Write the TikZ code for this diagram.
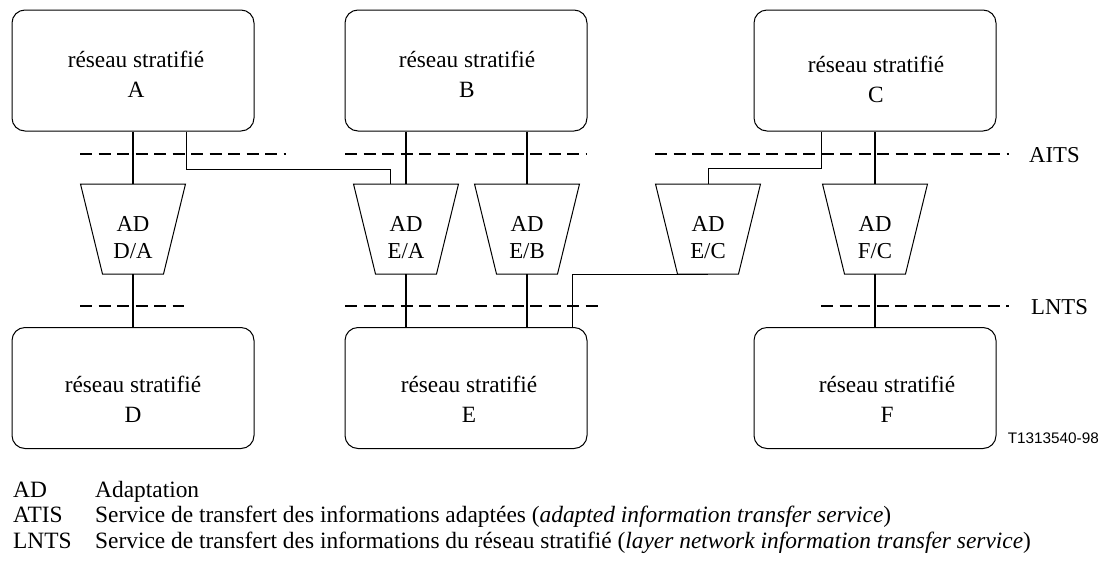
\documentclass[tikz,border=0pt]{standalone}
\usepackage{fontspec}
\setmainfont{Liberation Serif}
\newfontfamily\figsans{Liberation Sans}
\usetikzlibrary{calc}

% adaptation function: trapezium with its label, plus top and bottom ports
\newcommand\adapter[3]{%
  \draw[adline] (#2-52.5,184) -- (#2+52.5,184) -- (#2+30.5,274) -- (#2-30.5,274) -- cycle;
  \node[adlbl] (#1) at (#2,238) {AD\\#3};
  \coordinate (#1-t) at (#2,184);
  \coordinate (#1-b) at (#2,274);
}

\begin{document}
\begin{tikzpicture}[x=1pt,y=-1pt,
  net/.style={draw, line width=1pt, rounded corners=13pt,
              minimum width=242pt, minimum height=121pt, inner sep=0pt},
  lbl/.style={align=center, inner sep=0pt, font=\fontsize{23.3}{30}\selectfont},
  adlbl/.style={align=center, inner sep=0pt, font=\fontsize{22.8}{27}\selectfont},
  adline/.style={line width=1pt, line join=miter},
  conn/.style={line width=1.6pt},
  link/.style={line width=0.9pt},
  service/.style={line width=1.6pt, dash pattern=on 12pt off 6.5pt},
  svclbl/.style={anchor=base west, inner sep=0pt, font=\fontsize{22.7}{26}\selectfont},
  legend/.style={anchor=base west, inner sep=0pt, font=\fontsize{23.4}{26}\selectfont}
]
\fill[white] (0,0) rectangle (1103,560);
\useasboundingbox (0,0) rectangle (1103,560);

% layer networks
\node[net] (A) at (133,70.5) {};
\node[net] (B) at (466,70.5) {};
\node[net] (C) at (875,70.5) {};
\node[net] (D) at (133,388) {};
\node[net] (E) at (466,388) {};
\node[net] (F) at (875,388) {};

\node[lbl] (tA) at (136,74) {réseau stratifié\\A};
\node[lbl] (tB) at (467,74) {réseau stratifié\\B};
\node[lbl] (tC) at (876,79) {réseau stratifié\\C};
\node[lbl] (tD) at (133,399) {réseau stratifié\\D};
\node[lbl] (tE) at (469,399) {réseau stratifié\\E};
\node[lbl] (tF) at (887,399) {réseau stratifié\\F};

% adaptation functions
\adapter{DA}{133}{D/A}
\adapter{EA}{406}{E/A}
\adapter{EB}{527}{E/B}
\adapter{EC}{708}{E/C}
\adapter{FC}{875}{F/C}

% service boundaries
\draw[service] (80,154) -- (286,154);
\draw[service] (345,154) -- (587,154);
\draw[service] (655,154) -- (1009,154);
\draw[service] (80,306) -- (184,306);
\draw[service] (345,306) -- (603,306);
\draw[service] (821,306) -- (1009,306);
\node[svclbl] (aits) at (1029,162) {AITS};
\node[svclbl] (lnts) at (1031,314) {LNTS};

% direct connections
\draw[conn] (A.south) -- (DA-t);
\draw[conn] (DA-b) -- (D.north);
\draw[conn] ([xshift=-60pt]B.south) -- (EA-t);
\draw[conn] ([xshift=61pt]B.south) -- (EB-t);
\draw[conn] (EA-b) -- (EA-b |- E.north);
\draw[conn] (EB-b) -- (EB-b |- E.north);
\draw[conn] (C.south) -- (FC-t);
\draw[conn] (FC-b) -- (F.north);

% routed connections
\draw[link] ([xshift=53pt]A.south) -- ++(0,38) -| ([xshift=-16pt]EA-t);
\draw[link] ([xshift=-54pt]C.south) -- ++(0,37) -| (EC-t);
\draw[link] ([xshift=106pt]E.north) |- (EC-b);

\node[anchor=base east, inner sep=0pt, font=\figsans\fontsize{15.3}{18}\selectfont] (ref) at (1099,443) {T1313540-98};

% key
\node[legend] (k1) at (13,497) {AD};
\node[legend] (d1) at (95,497) {Adaptation};
\node[legend] (k2) at (13,522) {ATIS};
\node[legend] (d2) at (95,522) {Service de transfert des informations adaptées (\textit{adapted information transfer service})};
\node[legend] (k3) at (13,548) {LNTS};
\node[legend] (d3) at (95,548) {Service de transfert des informations du réseau stratifié (\textit{layer network information transfer service})};
\end{tikzpicture}
\end{document}
